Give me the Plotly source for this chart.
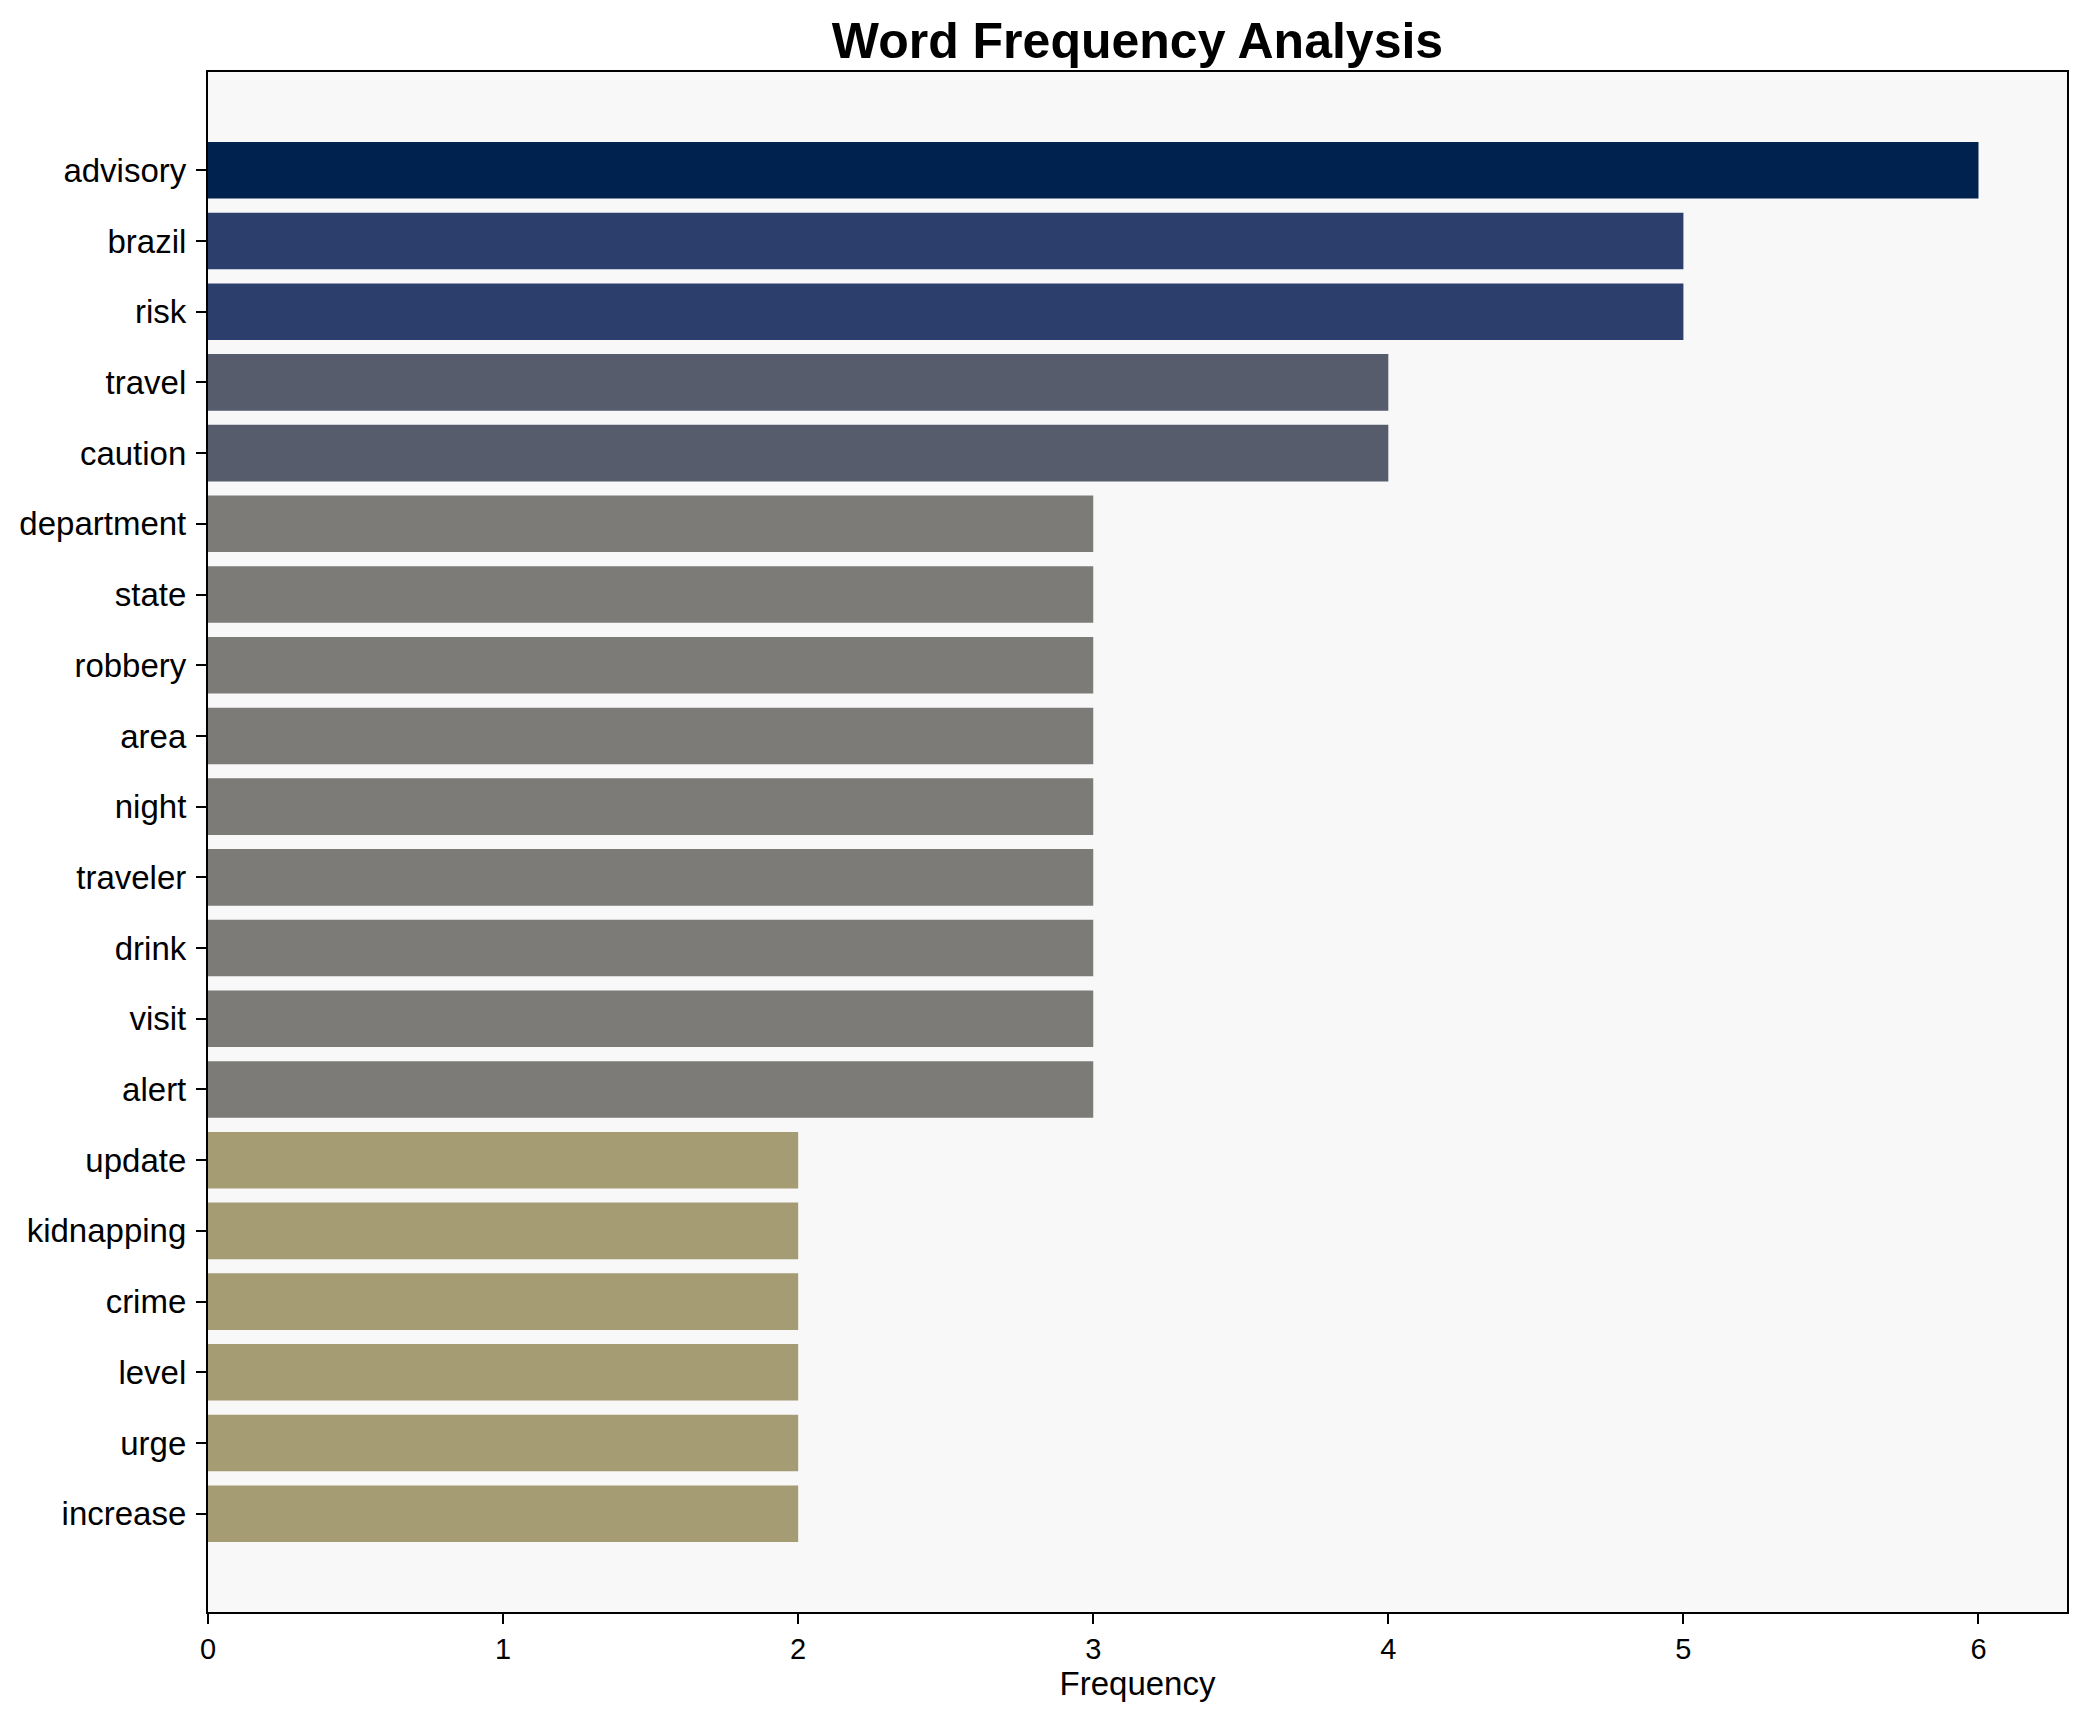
import plotly.graph_objects as go

words = ["advisory", "brazil", "risk", "travel", "caution", "department", "state",
         "robbery", "area", "night", "traveler", "drink", "visit", "alert",
         "update", "kidnapping", "crime", "level", "urge", "increase"]
freqs = [6, 5, 5, 4, 4, 3, 3, 3, 3, 3, 3, 3, 3, 3, 2, 2, 2, 2, 2, 2]

# colour per frequency (cividis-like, darker = more frequent)
color_by_freq = {6: "#00224e", 5: "#2b3e6c", 4: "#575c6d", 3: "#7c7b78", 2: "#a59c74"}
colors = [color_by_freq[f] for f in freqs]

FONT = "Liberation Sans, Arial, sans-serif"

W, H = 2080, 1714
L, R, T, B = 200, 21, 64, 110

fig = go.Figure(go.Bar(
    x=freqs, y=words, orientation="h",
    marker=dict(color=colors, line=dict(width=0)),
    width=0.8,
))

n = len(words)
fig.update_layout(
    width=W, height=H,
    margin=dict(l=L, r=R, t=T, b=B, autoexpand=False),
    paper_bgcolor="white",
    plot_bgcolor="#f8f8f8",
    showlegend=False,
    font=dict(family=FONT, size=33, color="black"),
    title=dict(text="<b>Word Frequency Analysis</b>",
               font=dict(family=FONT, size=50, color="black"),
               x=(L + (W - R)) / 2 / W, xanchor="center",
               xref="container", yref="container",
               y=1 - 32 / H, yanchor="middle"),
)
fig.update_xaxes(
    range=[0, 6.3], tickmode="linear", tick0=0, dtick=1,
    showgrid=False, zeroline=False,
    showline=True, linecolor="black", linewidth=2.2, mirror=True,
    ticks="outside", ticklen=10, tickwidth=2.2, tickcolor="black",
    tickfont=dict(family=FONT, size=29, color="black"),
    title=dict(text="Frequency", font=dict(family=FONT, size=33, color="black"), standoff=7),
)
fig.update_yaxes(
    type="category", categoryorder="array", categoryarray=words,
    range=[n - 1 + 1.39, -1.39], autorange=False,
    showgrid=False, zeroline=False,
    showline=True, linecolor="black", linewidth=2.2, mirror=True,
    ticks="outside", ticklen=10, tickwidth=2.2, tickcolor="black",
    tickfont=dict(family=FONT, size=33, color="black"),
    ticklabelstandoff=3,
)

fig.write_html("out.html")
